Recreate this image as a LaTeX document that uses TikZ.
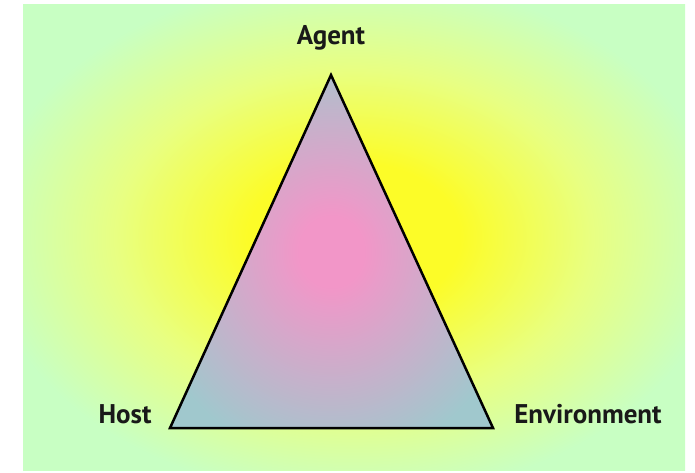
\documentclass[tikz,border=0pt]{standalone}
\usepackage{fontspec}
\setmainfont{PT Sans}
\definecolor{bgGreen}{RGB}{200,255,195}
\definecolor{bgMid}{RGB}{232,255,130}
\definecolor{bgYellow}{RGB}{252,252,40}
\definecolor{triPink}{RGB}{242,150,200}
\definecolor{triBlue}{RGB}{160,200,205}
\pgfdeclareradialshading{bgglow}{\pgfpoint{0bp}{0bp}}{%
  color(0bp)=(bgYellow); color(8bp)=(bgYellow); color(18bp)=(bgMid); color(28bp)=(bgGreen); color(70bp)=(bgGreen)}
\pgfdeclareradialshading{triglow}{\pgfpoint{0bp}{0bp}}{%
  color(0bp)=(triPink); color(5bp)=(triPink); color(30bp)=(triBlue); color(70bp)=(triBlue)}
\tikzset{
  lbl/.style={font=\fontsize{27}{30}\selectfont\bfseries, inner sep=0pt, text=black!90},
}
\begin{document}
\begin{tikzpicture}[x=1pt,y=-1pt]
  \useasboundingbox (0,0) rectangle (695,472);
  \fill[white] (0,0) rectangle (695,472);
  \shade[shading=bgglow] (23,4) rectangle (685,470);
  \coordinate (A) at (331,75);
  \coordinate (H) at (170,428);
  \coordinate (E) at (493,428);
  \shade[shading=triglow] (A) -- (H) -- (E) -- cycle;
  \draw[line width=2.5pt, line join=miter] (A) -- (H) -- (E) -- cycle;
  \node[lbl] (agent) at (331,38) {Agent};
  \node[lbl] (host) at (125,414) {Host};
  \node[lbl] (env) at (588,414) {Environment};
\end{tikzpicture}
\end{document}
